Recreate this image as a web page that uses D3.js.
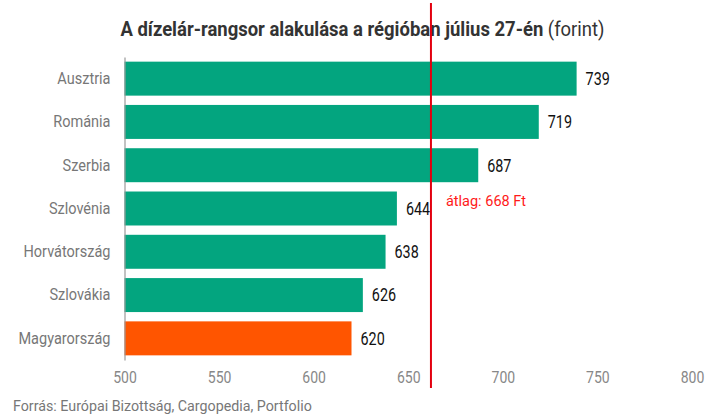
<!DOCTYPE html>
<html>
<head>
<meta charset="utf-8">
<script src="https://cdn.jsdelivr.net/npm/d3@7"></script>
<style>
  body { margin: 0; background: #fff; }
  svg { display: block; font-family: Roboto, "Noto Sans", sans-serif; }
</style>
</head>
<body>
<div id="chart"></div>
<script>
const countries = ["Ausztria", "Románia", "Szerbia", "Szlovénia", "Horvátország", "Szlovákia", "Magyarország"];
const prices = [739, 719, 687, 644, 638, 626, 620];
const highlight = "Magyarország";
const xTicks = [500, 550, 600, 650, 700, 750, 800];
const avgLinePos = 662;
const avgLabel = "átlag: 668 Ft";

const width = 718, height = 415;
const svg = d3.select("#chart").append("svg")
    .attr("width", width)
    .attr("height", height);

// the original uses a narrow face; squeeze Roboto horizontally to match
function condense(sel, sx) {
  sel.each(function () {
    const t = d3.select(this);
    const tx = +t.attr("x") || 0, ty = +t.attr("y") || 0;
    t.attr("x", 0).attr("y", 0)
     .attr("transform", `translate(${tx},${ty}) scale(${sx},1)`);
  });
}

const x = d3.scaleLinear()
    .domain([500, 800])
    .range([124.5, 692]);

const y = d3.scaleBand()
    .domain(countries)
    .range([57, 360])
    .paddingInner(0.215)
    .paddingOuter(0.1075);

// title
const title = svg.append("text")
    .attr("x", 362.5)
    .attr("y", 35.5)
    .attr("text-anchor", "middle")
    .attr("font-size", 21)
    .attr("fill", "#333");
title.append("tspan").attr("font-weight", "bold").text("A dízelár-rangsor alakulása a régióban július 27-én");
title.append("tspan").attr("font-weight", "normal").text(" (forint)");
condense(title, 0.88);

// bars
svg.append("g")
  .selectAll("rect")
  .data(countries)
  .join("rect")
    .attr("x", x(500))
    .attr("y", d => y(d))
    .attr("width", (d, i) => x(prices[i]) - x(500))
    .attr("height", y.bandwidth())
    .attr("fill", d => d === highlight ? "#ff5500" : "#03a57f");

// value labels
const values = svg.append("g")
  .selectAll("text")
  .data(countries)
  .join("text")
    .attr("x", (d, i) => x(prices[i]) + 9)
    .attr("y", d => y(d) + y.bandwidth() / 2)
    .attr("dy", "0.36em")
    .attr("font-size", 17.5)
    .attr("fill", "#111")
    .text((d, i) => prices[i]);
condense(values, 0.82);

// category axis
const yAxis = svg.append("g")
    .attr("transform", `translate(${x(500)},0)`)
    .call(d3.axisLeft(y).tickSize(0).tickPadding(14));
yAxis.select(".domain").attr("stroke", "#999").attr("stroke-width", 1.2);
yAxis.selectAll("text")
    .attr("font-size", 16.5)
    .attr("fill", "#777")
    .attr("font-family", "Roboto, sans-serif")
    .call(condense, 0.88);

// value axis
const xAxis = svg.append("g")
    .attr("transform", "translate(0,364)")
    .call(d3.axisBottom(x).tickValues(xTicks).tickSize(0).tickPadding(7.5));
xAxis.select(".domain").remove();
xAxis.selectAll("text")
    .attr("font-size", 16.5)
    .attr("fill", "#888")
    .attr("font-family", "Roboto, sans-serif")
    .call(condense, 0.85);

// average line
svg.append("line")
    .attr("x1", x(avgLinePos))
    .attr("x2", x(avgLinePos))
    .attr("y1", 3)
    .attr("y2", 388)
    .attr("stroke", "#e3000f")
    .attr("stroke-width", 2);
svg.append("text")
    .attr("x", x(avgLinePos) + 15)
    .attr("y", 206)
    .attr("font-size", 14.5)
    .attr("fill", "#ff1a1a")
    .text(avgLabel);

// source
const source = svg.append("text")
    .attr("x", 13)
    .attr("y", 411)
    .attr("font-size", 15.5)
    .attr("fill", "#777")
    .text("Forrás: Európai Bizottság, Cargopedia, Portfolio");
condense(source, 0.92);
</script>
</body>
</html>
